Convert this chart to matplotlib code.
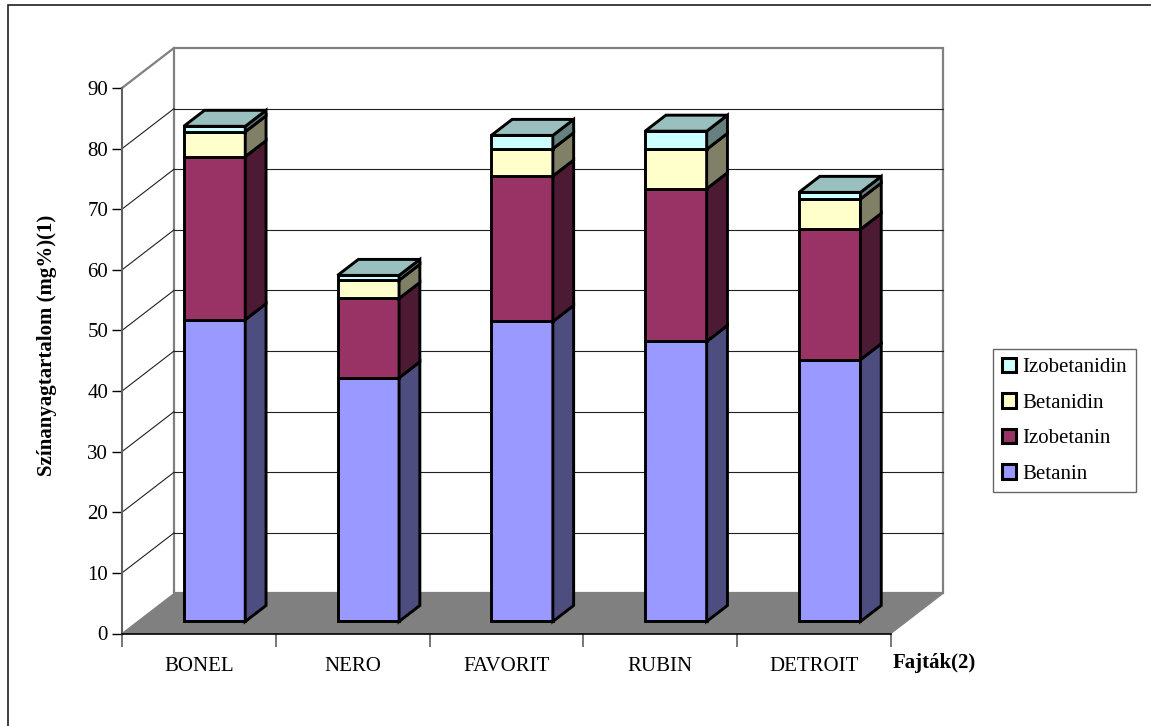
import numpy as np
import matplotlib
matplotlib.use("Agg")
import matplotlib.pyplot as plt
from matplotlib.patches import Polygon, Rectangle, Patch
from matplotlib.colors import to_rgb

plt.rcParams['font.family'] = ['Liberation Serif', 'DejaVu Serif']

# data (mg%)
fajtak = ["BONEL", "NERO", "FAVORIT", "RUBIN", "DETROIT"]
series_names = ["Betanin", "Izobetanin", "Betanidin", "Izobetanidin"]
betanin = [49.8, 40.2, 49.5, 46.2, 43.2]
izobetanin = [26.9, 13.1, 24.0, 25.2, 21.5]
betanidin = [4.1, 3.0, 4.5, 6.5, 5.0]
izobetanidin = [0.9, 0.8, 2.2, 3.0, 1.1]
colors = ["#9999FF", "#993366", "#FFFFCC", "#CCFFFF"]
y_ticks = list(range(0, 100, 10))

# oblique "3D" depth offset in data units (full depth of the floor)
DX = 0.338
DY = 6.6
Z0, Z1 = 0.3, 0.7      # bar front/back depth fraction
BW = 0.4               # bar width in category units


def shade(c, f):
    r, g, b = to_rgb(c)
    return (r * f, g * f, b * f)


def poly(ax, pts, fc, ec="black", lw=2.1, z=3):
    ax.add_patch(Polygon(pts, closed=True, facecolor=fc, edgecolor=ec,
                         linewidth=lw, joinstyle="miter", zorder=z, clip_on=False))


W, H = 1151, 726
fig = plt.figure(figsize=(W / 100, H / 100), dpi=100)
ax = fig.add_axes([122 / W, 92.5 / H, 769 / W, 545.5 / H])
ax.set_xlim(0, 5)
ax.set_ylim(0, 90)
ax.patch.set_visible(False)
n = len(fajtak)
ymax = y_ticks[-1]

# back wall and left wall
ax.add_patch(Rectangle((DX, DY), n, ymax, facecolor="white", edgecolor="#808080",
                       linewidth=1.6, zorder=0.5, clip_on=False))
ax.plot([0, DX], [ymax, ymax + DY], color="#808080", lw=1.6, zorder=0.6, clip_on=False)
for v in y_ticks[1:-1]:
    ax.plot([DX, n + DX], [v + DY, v + DY], color="#202020", lw=0.8, zorder=0.7, clip_on=False)
    ax.plot([0, DX], [v, v + DY], color="#202020", lw=0.8, zorder=0.7, clip_on=False)

# floor
poly(ax, [(0, 0), (n, 0), (n + DX, DY), (DX, DY)], "#808080", ec="#808080", lw=0.8, z=0.8)

# stacked bars
data = [betanin, izobetanin, betanidin, izobetanidin]
for i in range(n):
    x0 = i + 0.5 - BW / 2
    x1 = i + 0.5 + BW / 2
    bottom = 0.0
    for s, vals in enumerate(data):
        top = bottom + vals[i]
        c = colors[s]
        poly(ax, [(x0 + Z0 * DX, bottom + Z0 * DY), (x1 + Z0 * DX, bottom + Z0 * DY),
                  (x1 + Z0 * DX, top + Z0 * DY), (x0 + Z0 * DX, top + Z0 * DY)], c)
        poly(ax, [(x1 + Z0 * DX, bottom + Z0 * DY), (x1 + Z1 * DX, bottom + Z1 * DY),
                  (x1 + Z1 * DX, top + Z1 * DY), (x1 + Z0 * DX, top + Z0 * DY)], shade(c, 0.5))
        bottom = top
    poly(ax, [(x0 + Z0 * DX, bottom + Z0 * DY), (x1 + Z0 * DX, bottom + Z0 * DY),
              (x1 + Z1 * DX, bottom + Z1 * DY), (x0 + Z1 * DX, bottom + Z1 * DY)],
         shade(colors[-1], 0.75))

# axes
for sp in ["top", "right"]:
    ax.spines[sp].set_visible(False)
ax.spines["left"].set_color("#606060")
ax.spines["left"].set_linewidth(1.5)
ax.spines["bottom"].set_color("black")
ax.spines["bottom"].set_linewidth(1.2)
ax.set_yticks(y_ticks)
ax.tick_params(axis="y", direction="out", length=7, width=1, color="black",
               pad=3, labelsize=15)
ax.set_xticks(range(n + 1))
ax.set_xticklabels([])
ax.set_xticks([i + 0.5 for i in range(n)], minor=True)
ax.set_xticklabels(fajtak, minor=True)
ax.tick_params(axis="x", which="major", direction="out", length=9, width=1.2, color="#606060")
ax.tick_params(axis="x", which="minor", length=0, pad=17, labelsize=15)

fig.text(47 / W, 1 - 345 / H, "Színanyagtartalom (mg%)(1)", rotation=90,
         ha="center", va="center", fontsize=15, fontweight="bold")
fig.text(893 / W, 1 - 663 / H, "Fajták(2)", ha="left", va="center",
         fontsize=15, fontweight="bold")

handles = [Patch(facecolor=colors[s], edgecolor="black", linewidth=2.2, label=series_names[s])
           for s in range(len(series_names) - 1, -1, -1)]
leg = fig.legend(handles=handles, loc="upper left", bbox_to_anchor=(993 / W, 1 - 349 / H),
                 borderaxespad=0, fontsize=15, frameon=True, fancybox=False,
                 handlelength=0.7, handleheight=0.7, handletextpad=0.3,
                 labelspacing=0.76, borderpad=0.42)
leg.get_frame().set_edgecolor("#404040")
leg.get_frame().set_linewidth(1.0)

# outer chart border
fig.patches.append(Rectangle((8 / W, -0.05), 1.1, 1 - 5 / H + 0.05, transform=fig.transFigure,
                             fill=False, edgecolor="#202020", linewidth=1.2))

fig.savefig("out.png", dpi=100)
